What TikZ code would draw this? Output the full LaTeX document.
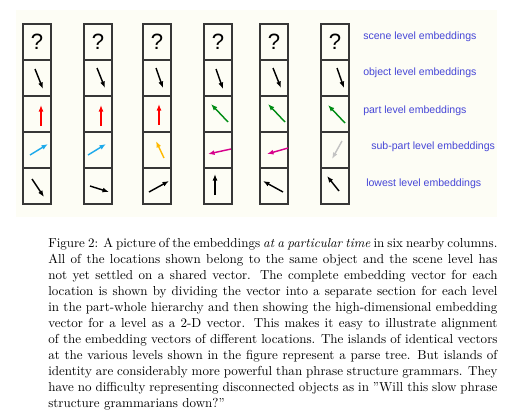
\documentclass[tikz,border=0pt]{standalone}
\usepackage{fontspec}
\setsansfont{Liberation Sans}
\usepackage{tikz}
\usetikzlibrary{arrows.meta,positioning}
\definecolor{panel}{RGB}{253,253,245}
\definecolor{framegray}{RGB}{55,55,55}
\definecolor{labelblue}{RGB}{70,70,215}
\definecolor{vcyan}{RGB}{30,170,235}
\definecolor{vorange}{RGB}{255,185,0}
\definecolor{vgreen}{RGB}{0,140,20}
\definecolor{vmagenta}{RGB}{215,0,140}
\definecolor{vgray}{RGB}{195,195,195}
\tikzset{
	cell/.style    = {
		draw           = framegray,
		line width     = 1.536pt,
		minimum width  = 21.504pt,
		minimum height = 27.648pt,
		inner sep      = 0pt,
		outer sep      = 0pt
	},
	vec/.style     = {line width = 1.1pt, -{Latex[length=5pt,width=3.8pt]}},
	levtext/.style = {anchor = west, inner sep = 0pt, text = labelblue,
		font = \sffamily\fontsize{8.1}{9}\selectfont}
}

\begin{document}
\begin{tikzpicture}[x=0.768pt,y=-0.768pt]
	\useasboundingbox (0,0) rectangle (511,418);
	% panel behind the columns
	\fill[panel] (16,10) rectangle (497,217);
	% six columns of five levels
	\foreach[count=\c] \cx in {37,98,157,218,274,335}{
		\foreach \r in {1,...,5}
		\node(c\c-\r) [cell] at (\cx,{24+36*(\r-0.5)}) {};
		\node at (c\c-1.center) [font = \sffamily\fontsize{17}{17}\selectfont] {?};
	}
	% the 2-D vectors: column/row/colour/offset/vector
	\foreach \c/\r/\col/\dx/\dy/\ux/\uy in {
		1/2/black/-2/-9/8/20, 1/3/red/4/12/0/-21, 1/4/vcyan/-7/5/18/-11, 1/5/black/-5/-7/12/18,
		2/2/black/-1/-10/8/20, 2/3/red/3/12/0/-21, 2/4/vcyan/-10/5/18/-11, 2/5/black/-8/0/19/6,
		3/2/black/-1/-10/7/20, 3/3/red/2/11/0/-21, 3/4/vorange/7/8/-8/-17, 3/5/black/-8/6/20/-11,
		4/2/black/-2/-9/7/20, 4/3/vgreen/10/8/-17/-18, 4/4/vmagenta/13/-1/-23/5, 4/5/black/-3/9/0/-21,
		5/2/black/-1/-10/8/20, 5/3/vgreen/11/8/-17/-18, 5/4/vmagenta/14/-2/-21/6, 5/5/black/9/6/-20/-11,
		6/2/black/2/-10/7/20, 6/3/vgreen/10/9/-17/-18, 6/4/vgray/7/-9/-10/18, 6/5/black/4/5/-12/-15}
	\draw[vec, \col] ([shift={(\dx,\dy)}]c\c-\r.center) -- ++(\ux,\uy);
	% level names
	\node(scene) [levtext] at (363,37) {scene level embeddings};
	\node(object) [levtext] at (363,73) {object level embeddings};
	\node(part) [levtext] at (363,111) {part level embeddings};
	\node(subpart) [levtext] at (371,147) {sub-part level embeddings};
	\node(lowest) [levtext] at (366,184) {lowest level embeddings};
	% caption
	\node(caption) [anchor = north west, inner sep = 0pt, text width = 345pt, align = justify,
		font = \fontsize{10}{12.3}\selectfont] at (48,237.5)
	{Figure 2: A picture of the embeddings \emph{at a particular time} in six nearby columns.
		All of the locations shown belong to the same object and the scene level has
		not yet settled on a shared vector. The complete embedding vector for each
		location is shown by dividing the vector into a separate section for each level
		in the part-whole hierarchy and then showing the high-dimensional embedding
		vector for a level as a 2-D vector. This makes it easy to illustrate alignment
		of the embedding vectors of different locations. The islands of identical vectors
		at the various levels shown in the figure represent a parse tree. But islands of
		identity are considerably more powerful than phrase structure grammars. They
		have no difficulty representing disconnected objects as in ''Will this slow phrase
		structure grammarians down?''};
\end{tikzpicture}
\end{document}
